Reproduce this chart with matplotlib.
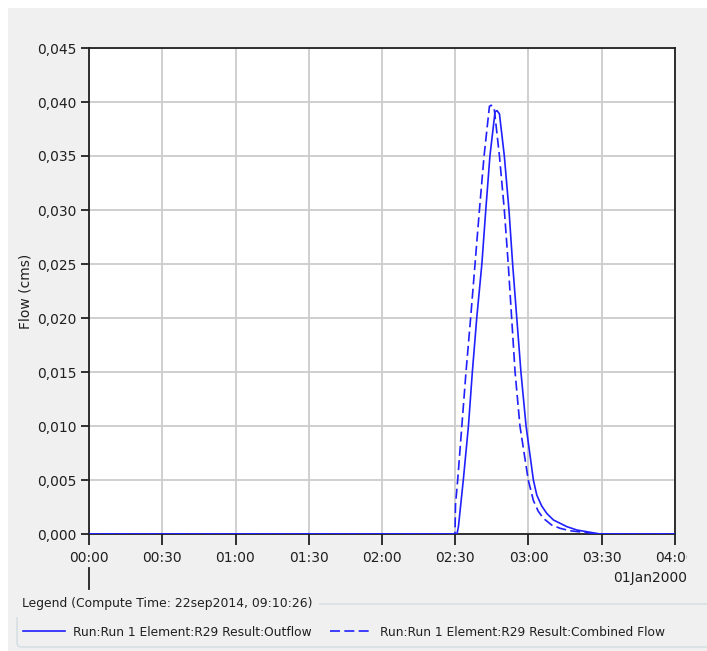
import matplotlib
matplotlib.use("Agg")
import matplotlib.pyplot as plt
from matplotlib.patches import Rectangle, FancyBboxPatch
from matplotlib.ticker import FuncFormatter, FixedLocator
from matplotlib.transforms import Bbox, TransformedBbox, blended_transform_factory

# time in minutes after 01Jan2000 00:00, flow in cms
outflow_t = [0, 150.7, 151.3, 153.3, 155.4, 157.0, 158.8, 160.9, 162.5, 164.2, 166.3, 167.1, 168.1,
             170.1, 172.0, 173.5, 175.2, 176.9, 179.0, 182.0, 183.4, 185.4, 187.5, 190.2, 195.7,
             199.8, 205.2, 209.3, 240]
outflow_q = [0, 0, 0.00068, 0.005, 0.010, 0.015, 0.020, 0.025, 0.030, 0.035, 0.0391, 0.0392, 0.0389,
             0.035, 0.030, 0.025, 0.020, 0.015, 0.010, 0.005, 0.0036, 0.0026, 0.0019, 0.0013, 0.00068,
             0.00037, 0.00016, 0, 0]

combined_t = [0, 149.9, 150.1, 151.0, 152.7, 154.4, 156.3, 158.1, 159.9, 161.8, 164.0, 164.7, 165.9,
              168.1, 170.1, 171.7, 173.1, 174.5, 176.5, 179.9, 182.0, 184.0, 186.1, 189.5, 192.9,
              197.0, 202.5, 209.3, 240]
combined_q = [0, 0, 0.0027, 0.005, 0.010, 0.015, 0.020, 0.025, 0.030, 0.035, 0.0396, 0.0397, 0.0395,
              0.035, 0.030, 0.025, 0.020, 0.015, 0.010, 0.005, 0.0031, 0.0021, 0.00145, 0.00083, 0.00053,
              0.0003, 0.00016, 0, 0]

x_ticks = [0, 30, 60, 90, 120, 150, 180, 210, 240]
y_ticks = [0.0, 0.005, 0.010, 0.015, 0.020, 0.025, 0.030, 0.035, 0.040, 0.045]

W, H = 707, 651
blue = "#2020ff"
panel = "#f0f0f0"
ink = "#202020"

fig = plt.figure(figsize=(W / 100, H / 100), dpi=100, facecolor="white")
plt.rcParams['font.family'] = ['DejaVu Sans']

# gray panel behind the chart
fig.add_artist(Rectangle((8 / W, 0), 1 - 8 / W, 1 - 8 / H, transform=fig.transFigure,
                         facecolor=panel, edgecolor="none", zorder=-10))

ax = fig.add_axes([89 / W, 1 - 534 / H, (675 - 89) / W, (534 - 48) / H])
ax.set_facecolor("white")

ax.plot(outflow_t, outflow_q, color=blue, lw=1.2, label="Run:Run 1 Element:R29 Result:Outflow", zorder=3)
ax.plot(combined_t, combined_q, color=blue, lw=1.2, dashes=(6, 2.6),
        label="Run:Run 1 Element:R29 Result:Combined Flow", zorder=3)

ax.set_xlim(0, 240)
ax.set_ylim(0, 0.045)
ax.xaxis.set_major_locator(FixedLocator(x_ticks))
ax.yaxis.set_major_locator(FixedLocator(y_ticks))
ax.xaxis.set_major_formatter(FuncFormatter(lambda v, p: "%02d:%02d" % (int(v) // 60, int(v) % 60)))
ax.yaxis.set_major_formatter(FuncFormatter(lambda v, p: ("%.3f" % v).replace(".", ",")))
ax.tick_params(axis="both", direction="out", length=6, width=1.3, color=ink,
               labelsize=10, labelcolor=ink, pad=3)
ax.tick_params(axis="x", length=8, pad=4)
ax.grid(True, color="#cccccc", lw=1.3)
ax.set_axisbelow(True)
for s in ax.spines.values():
    s.set_color(ink)
    s.set_linewidth(1.3)

ax.set_ylabel("Flow (cms)", fontsize=10, color=ink)
ax.yaxis.set_label_coords((33 - 89) / 586, 0.5)

# clip the last time label like the reference panel does
clip = TransformedBbox(Bbox([[0, 0], [687 / W, 1]]), fig.transFigure)
for lab in ax.get_xticklabels():
    lab.set_clip_box(clip)
    lab.set_clip_on(True)

# day marker and date label
tr = blended_transform_factory(ax.transData, fig.transFigure)
ax.plot([0, 0], [1 - 568 / H, 1 - 589 / H], color=ink, lw=1.3, transform=tr, clip_on=False)
fig.text(687 / W, 1 - 578 / H, "01Jan2000", ha="right", va="center", fontsize=10, color=ink)

# legend box
fig.add_artist(FancyBboxPatch((17 / W, 1 - 647 / H), 1.0, 43 / H, boxstyle="round,pad=0,rounding_size=0.006",
                              transform=fig.transFigure, facecolor="none", edgecolor="#d3dde3", lw=1))
fig.text(22 / W, 1 - 604 / H, "Legend (Compute Time: 22sep2014, 09:10:26)", ha="left", va="center",
         fontsize=8.9, color=ink, backgroundcolor=panel)
fig.legend(loc="center left", bbox_to_anchor=(23 / W, 1 - 632 / H), ncol=2, frameon=False, fontsize=8.8,
           handlelength=3.4, handletextpad=0.7, columnspacing=1.5, borderaxespad=0, borderpad=0,
           labelcolor=ink)

fig.savefig("out.png", dpi=100, facecolor="white")
